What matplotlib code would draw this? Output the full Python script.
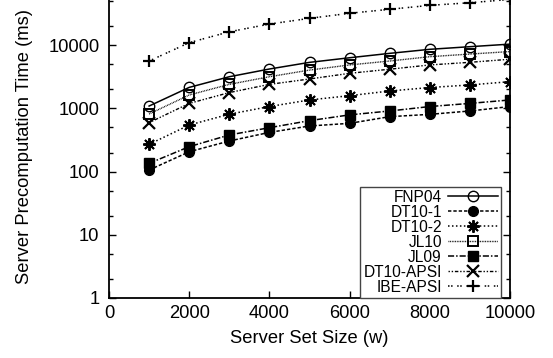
import matplotlib
matplotlib.use("Agg")
import matplotlib.pyplot as plt
from matplotlib.ticker import LogLocator, FixedLocator, NullFormatter

plt.rcParams['font.family'] = ['Liberation Sans', 'DejaVu Sans']

set_size = [1000, 2000, 3000, 4000, 5000, 6000, 7000, 8000, 9000, 10000]
fnp04 = [1090, 2150, 3170, 4200, 5350, 6330, 7430, 8610, 9470, 10400]
dt10_1 = [106, 206, 305, 417, 527, 580, 740, 805, 910, 1070]
dt10_2 = [270, 545, 810, 1070, 1360, 1590, 1885, 2140, 2350, 2650]
jl10 = [815, 1630, 2400, 3170, 4040, 4870, 5620, 6580, 7240, 7930]
jl09 = [135, 248, 380, 495, 640, 790, 910, 1070, 1200, 1360]
dt10_apsi = [595, 1200, 1780, 2400, 2920, 3590, 4170, 4870, 5360, 6000]
ibe_apsi = [5620, 10970, 16300, 21600, 26600, 32000, 37000, 42700, 47000, 53000]

x_ticks = [0, 2000, 4000, 6000, 8000, 10000]
y_ticks = [1, 10, 100, 1000, 10000]
y_tick_labels = ["1", "10", "100", "1000", "10000"]

W, H = 553, 358
fig = plt.figure(figsize=(W / 100, H / 100), dpi=100)
left, right, bottom, top = 109, 510, 298, -18
ax = fig.add_axes([left / W, (H - bottom) / H, (right - left) / W, (bottom - top) / H])

series = [
    ("FNP04", fnp04, dict(linestyle='-', marker='o', mfc='none', ms=7.5, color='black', lw=1.1)),
    ("DT10-1", dt10_1, dict(linestyle=(0, (2.2, 1.3)), marker='o', ms=7, color='black', lw=1.1)),
    ("DT10-2", dt10_2, dict(linestyle=(0, (1, 1.6)), marker=(8, 2, 0), ms=9, mew=1.4, color='black', lw=1.1)),
    ("JL10", jl10, dict(linestyle=(0, (0.6, 0.6)), marker='s', mfc='none', ms=7.5, mew=1.4, color='black', lw=1.0)),
    ("JL09", jl09, dict(linestyle=(0, (4, 1.3, 1, 1.3)), marker='s', ms=7.5, color='black', lw=1.1)),
    ("DT10-APSI", dt10_apsi, dict(linestyle=(0, (1, 1.3, 1, 1.3, 2.5, 1.3)), marker='x', ms=8, mew=1.6, color='black', lw=1.0)),
    ("IBE-APSI", ibe_apsi, dict(linestyle=(0, (1, 1, 1, 3)), marker='+', ms=9, mew=1.6, color='black', lw=1.1)),
]

for name, vals, st in series:
    ax.plot(set_size, vals, label=name, **st)

ax.set_yscale('log')
ax.set_xlim(0, 10000)
ax.set_ylim(1, 100000)
ax.xaxis.set_major_locator(FixedLocator(x_ticks))
ax.set_xticks(x_ticks)
ax.set_xticklabels([str(v) for v in x_ticks])
ax.set_yticks(y_ticks)
ax.set_yticklabels(y_tick_labels)
ax.yaxis.set_minor_locator(LogLocator(base=10, subs=(2.0, 5.0)))
ax.yaxis.set_minor_formatter(NullFormatter())

ax.tick_params(axis='both', which='major', direction='in', length=5, width=1.0,
               top=True, right=True, labelsize=13.2, pad=5)
ax.tick_params(axis='y', which='minor', direction='in', length=3, width=1.0, right=True)
ax.tick_params(axis='y', which='major', pad=7)
for s in ax.spines.values():
    s.set_linewidth(1.3)

ax.set_xlabel("Server Set Size (w)", fontsize=13.2, labelpad=6)
ax.set_ylabel("Server Precomputation Time (ms)", fontsize=13.2)
ax.yaxis.set_label_coords(-0.19, 0.478)

leg = ax.legend(loc='lower right', bbox_to_anchor=((501 - left) / (right - left), 0.0),
                markerfirst=False, fontsize=11.2, handlelength=3.2, handletextpad=0.4,
                labelspacing=0.0, borderpad=0.2, borderaxespad=0.0, numpoints=1,
                fancybox=False, framealpha=1, edgecolor='#444444')
leg.get_frame().set_linewidth(1.0)

fig.savefig("out.png", dpi=100)
